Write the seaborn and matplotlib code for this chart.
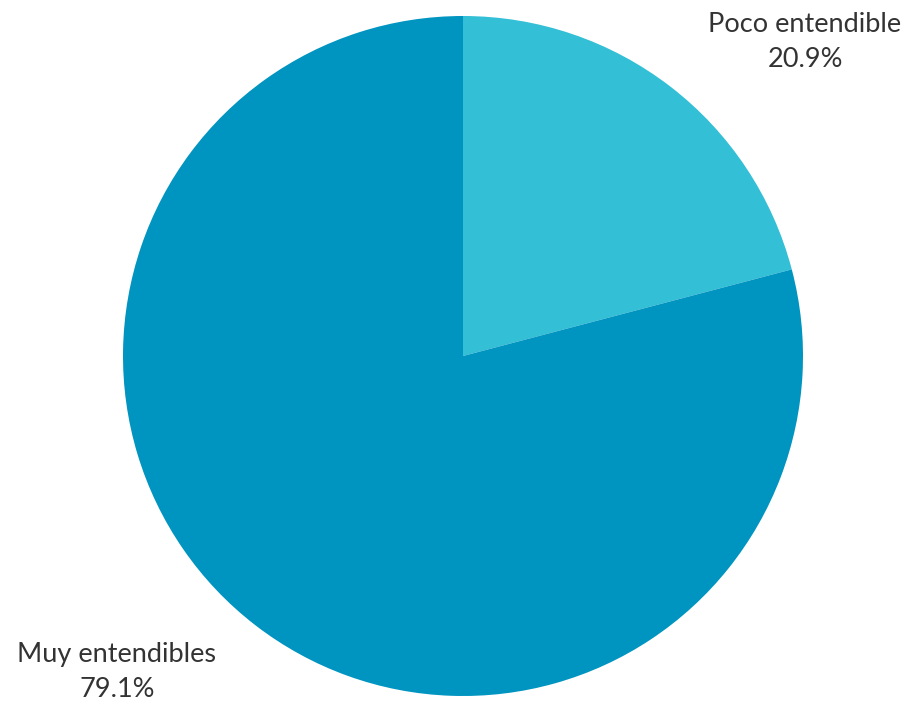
import matplotlib
matplotlib.use("Agg")
import matplotlib.pyplot as plt
import seaborn as sns

labels = ["Poco entendible", "Muy entendibles"]
values = [20.9, 79.1]
colors = ["#33BFD6", "#0094C0"]

sns.set_theme(style="white")
plt.rcParams['font.family'] = ['Lato', 'DejaVu Sans']

W, H = 914, 710
fig = plt.figure(figsize=(W / 100, H / 100), dpi=100)
r = 340
cx, cy = 463, 710 - 356
ax = fig.add_axes([(cx - r) / W, (cy - r) / H, 2 * r / W, 2 * r / H])

ax.pie(values, colors=colors, startangle=90, counterclock=False,
       wedgeprops=dict(linewidth=0))
ax.set_xlim(-1, 1)
ax.set_ylim(-1, 1)
ax.set_aspect('equal')
ax.axis('off')

# label positions in data units (radius = 1)
pos = [(1.006, 0.925), (-1.018, -0.93)]
for (x, y), lab, v in zip(pos, labels, values):
    ax.text(x, y, f"{lab}\n{v}%", ha='center', va='center', fontsize=19.5,
            color='#333333', linespacing=1.5, clip_on=False)

fig.savefig("out.png", dpi=100)
